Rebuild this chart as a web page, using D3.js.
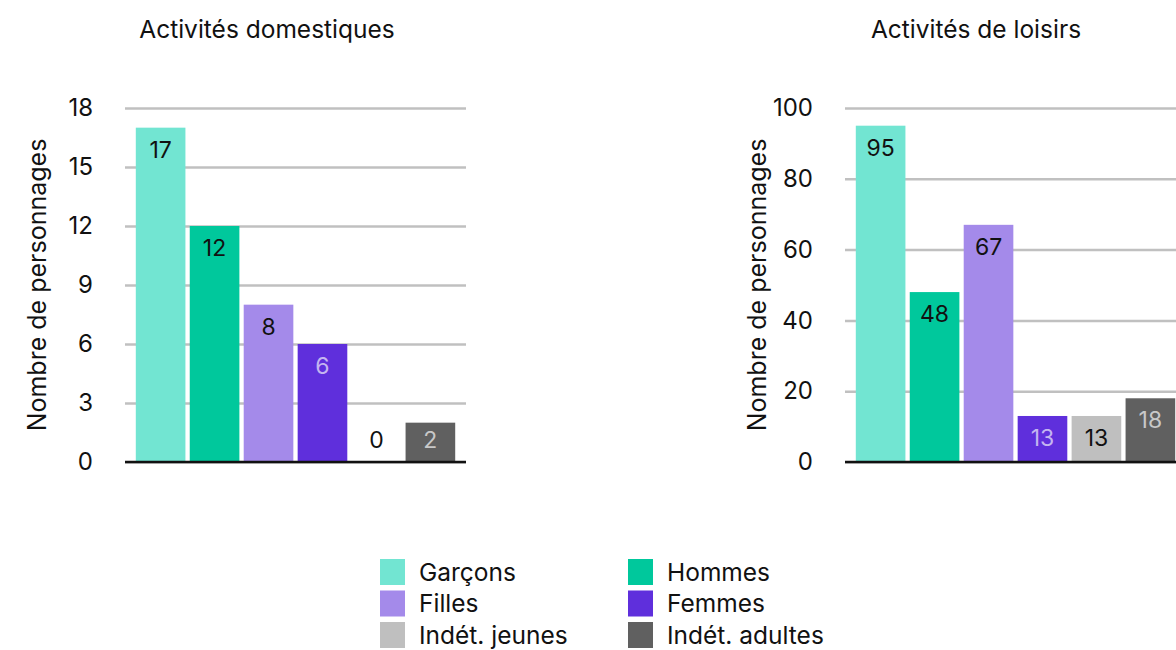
<!DOCTYPE html>
<html><head><meta charset="utf-8">
<script src="https://cdn.jsdelivr.net/npm/d3@7"></script>
<style>body{margin:0;background:#fff;} svg{display:block;}</style>
</head><body>
<svg id="c" width="1176" height="650"></svg>
<script>
const categories = ["Garçons","Hommes","Filles","Femmes","Indét. jeunes","Indét. adultes"];
const colors = ["#72e5d2","#00c89c","#a48aea","#5f2fdc","#bfbfbf","#606060"];
const labelColors = ["#111","#111","#111","#c4b5f0","#111","#c8c8c8"];
const panelTitles = ["Activités domestiques","Activités de loisirs"];
const domestiques = [17,12,8,6,0,2];
const loisirs = [95,48,67,13,13,18];
const ticksDom = [0,3,6,9,12,15,18];
const ticksLoi = [0,20,40,60,80,100];
const yTitle = "Nombre de personnages";

const FONT = "Inter, 'Noto Sans', sans-serif";
const svg = d3.select("#c");

const panels = [
  {title: panelTitles[0], values: domestiques, ticks: ticksDom, max: 18, x0: 125, titleX: 267},
  {title: panelTitles[1], values: loisirs, ticks: ticksLoi, max: 100, x0: 845, titleX: 976}
];

panels.forEach(p => {
  const g = svg.append("g");
  const x = d3.scaleBand().domain(categories).range([p.x0, p.x0 + 341]).paddingInner(0.08).paddingOuter(0.2);
  const y = d3.scaleLinear().domain([0, p.max]).range([462, 108]);

  g.append("text").attr("x", p.titleX).attr("y", 38).attr("text-anchor","middle")
    .attr("font-family", FONT).attr("font-size", 24.5).attr("fill","#111").text(p.title);

  const ax = d3.axisLeft(y).tickValues(p.ticks).tickSize(-341).tickPadding(32);
  const ag = g.append("g").attr("transform", `translate(${p.x0},0)`).call(ax);
  ag.select(".domain").remove();
  ag.selectAll(".tick line").attr("stroke","#c0c0c0").attr("stroke-width",2.5);
  ag.selectAll(".tick text").attr("font-family", FONT).attr("font-size", 24).attr("fill","#111");

  g.append("text").attr("transform", `translate(${p.x0 - 79},285) rotate(-90)`)
    .attr("text-anchor","middle").attr("font-family", FONT).attr("font-size", 25).attr("fill","#111").text(yTitle);

  g.selectAll("rect.bar").data(p.values).join("rect").attr("class","bar")
    .attr("x",(d,i)=>x(categories[i])).attr("width",x.bandwidth())
    .attr("y",d=>y(d)).attr("height",d=>y(0)-y(d)).attr("fill",(d,i)=>colors[i]);

  g.append("line").attr("x1",p.x0).attr("x2",p.x0+341).attr("y1",y(0)).attr("y2",y(0))
    .attr("stroke","#111").attr("stroke-width",2.5);

  g.selectAll("text.lbl").data(p.values).join("text").attr("class","lbl")
    .attr("x",(d,i)=>x(categories[i]) + x.bandwidth()/2)
    .attr("y",d=>Math.min(y(d)+22, y(0)-22))
    .attr("dy","0.35em").attr("text-anchor","middle")
    .attr("font-family", FONT).attr("font-size", 23)
    .attr("fill",(d,i)=> d===0 ? "#111" : labelColors[i]).text(d=>d);
});

// legend
const lg = svg.append("g");
categories.forEach((c,i) => {
  const col = i % 2, row = Math.floor(i/2);
  const lx = 380 + col*248, ly = 559 + row*31.5;
  lg.append("rect").attr("x",lx).attr("y",ly).attr("width",25).attr("height",26).attr("fill",colors[i]);
  lg.append("text").attr("x",lx+39).attr("y",ly+13).attr("dy","0.35em")
    .attr("font-family", FONT).attr("font-size", 24.5).attr("fill","#111").text(c);
});
</script>
</body></html>
